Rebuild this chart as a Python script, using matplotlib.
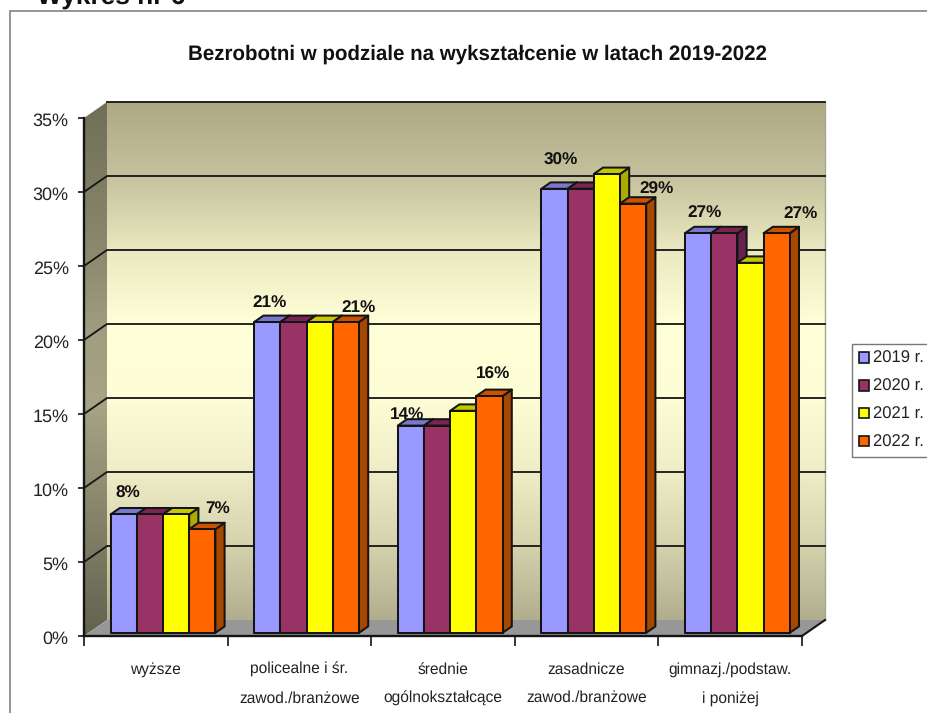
import numpy as np
import matplotlib
matplotlib.use("Agg")
import matplotlib.pyplot as plt
from matplotlib.colors import LinearSegmentedColormap
from matplotlib.patches import Polygon, Patch, Rectangle
from matplotlib.lines import Line2D
from matplotlib.transforms import ScaledTranslation

plt.rcParams['font.family'] = ['Liberation Sans', 'DejaVu Sans']
plt.rcParams['text.hinting'] = 'no_hinting'
plt.rcParams['text.hinting_factor'] = 8

# ---- data ----
categories = ["wyższe", "policealne i śr.\nzawod./branżowe", "średnie\nogólnokształcące",
              "zasadnicze\nzawod./branżowe", "gimnazj./podstaw.\ni poniżej"]
series_names = ["2019 r.", "2020 r.", "2021 r.", "2022 r."]
v2019 = [8, 21, 14, 30, 27]
v2020 = [8, 21, 14, 30, 27]
v2021 = [8, 21, 15, 31, 25]
v2022 = [7, 21, 16, 29, 27]
yticks = [0, 5, 10, 15, 20, 25, 30, 35]
ylabels = ["0%", "5%", "10%", "15%", "20%", "25%", "30%", "35%"]

# ---- style ----
face = ["#9999FF", "#993366", "#FFFF00", "#FF6600"]
top = ["#7878CC", "#7A2450", "#C8C800", "#CC5200"]
side = ["#6666AA", "#66224C", "#ABAB00", "#A84800"]
edge = "#141414"
W, H = 927, 713
fig = plt.figure(figsize=(W/100, H/100), dpi=100, facecolor="white")
L, R, T, B = 84, 802, 118, 636
ax = fig.add_axes([L/W, 1-B/H, (R-L)/W, (B-T)/H])
ax.set_xlim(0, 5); ax.set_ylim(0, 35)
ax.patch.set_visible(False)
px = 5/(R-L); py = 35/(B-T)
DX, DY = 23*px, 16*py

def proj(x, y, d):
    return (x + d*DX, y + d*DY)

# outer frame and cropped heading
fig.add_artist(Rectangle((10/W, -0.1), 1.0, 1-11/H+0.1, transform=fig.transFigure,
                         fill=False, ec="#8c8c8c", lw=1.3))
fig.text(37/W, 1-5/H, "Wykres nr 6", fontsize=18.9, fontweight="bold", color="#111111",
         ha="left", va="baseline")
fig.text(477.5/W, 1-54/H, "Bezrobotni w podziale na wykształcenie w latach 2019-2022",
         fontsize=14.8, fontweight="bold", color="#111111", ha="center", va="center")

# back wall
wall = LinearSegmentedColormap.from_list("wall", [
    (0.00, "#ADA985"), (0.14, "#C4C19C"), (0.286, "#EAE9C0"), (0.43, "#FFFFD8"),
    (0.57, "#FDFDD6"), (0.715, "#EEEDC6"), (0.86, "#D4D2AC"), (1.00, "#B0AE8E")])
grad = np.linspace(0, 1, 256)[:, None]
x0, y0 = proj(0, 0, 1); x1, y1 = proj(5, 35, 1)
ax.imshow(grad, cmap=wall, extent=[x0, x1, y0, y1], aspect="auto", clip_on=False,
          origin="upper", zorder=1)
# side wall
sidem = LinearSegmentedColormap.from_list("side", [
    (0.00, "#6F6F58"), (0.286, "#8B8A6E"), (0.43, "#A09E80"), (0.57, "#A6A484"),
    (0.715, "#8F8D72"), (1.00, "#62624E")])
xs0, _ = proj(0, 0, 0); xs1, _ = proj(0, 0, 1)
im = ax.imshow(grad, cmap=sidem, extent=[xs0, xs1, 0, y1], aspect="auto",
               origin="upper", zorder=1.1)
sp = Polygon([proj(0, 0, 0), proj(0, 35, 0), proj(0, 35, 1), proj(0, 0, 1)],
             transform=ax.transData, fc="none", ec="none")
im.set_clip_on(True)
im.set_clip_box(fig.bbox)
im.set_clip_path(sp)
ax.set_xlim(0, 5); ax.set_ylim(0, 35)
# floor
ax.add_patch(Polygon([proj(0, 0, 0), proj(5, 0, 0), proj(5, 0, 1), proj(0, 0, 1)],
                     fc="#979797", ec="none", clip_on=False, zorder=1.5))
# grid
for t in yticks[1:-1]:
    pts = [proj(0, t, 0), proj(0, t, 1), proj(5, t, 1)]
    ax.add_line(Line2D(*zip(*pts), color=edge, lw=1.3, clip_on=False, zorder=2))
ax.add_line(Line2D(*zip(proj(0, 35, 1), proj(5, 35, 1)), color=edge, lw=1.3, clip_on=False, zorder=2))
ax.add_line(Line2D(*zip(proj(5, 0, 0), proj(5, 0, 1)), color=edge, lw=1.5, clip_on=False, zorder=2))
ax.add_line(Line2D(*zip(proj(5, 0, 1), proj(5, 35, 1)), color="#a6a696", lw=1.0, clip_on=False, zorder=1.6))

# bars
bar_w = 26.2*px
start = 22*px
d0, d1 = 0.2, 0.6
series = [v2019, v2020, v2021, v2022]
z = 3
for c in range(len(categories)):
    for s, vals in enumerate(series):
        l = c + start + s*bar_w
        r = l + bar_w
        v = vals[c]
        kw = dict(ec=edge, lw=1.45, clip_on=False, joinstyle="round")
        ax.add_patch(Polygon([proj(r, 0, d0), proj(r, v, d0), proj(r, v, d1), proj(r, 0, d1)],
                             fc=side[s], zorder=z, **kw))
        ax.add_patch(Polygon([proj(l, v, d0), proj(r, v, d0), proj(r, v, d1), proj(l, v, d1)],
                             fc=top[s], zorder=z, **kw))
        ax.add_patch(Polygon([proj(l, 0, d0), proj(r, 0, d0), proj(r, v, d0), proj(l, v, d0)],
                             fc=face[s], zorder=z, **kw))
        z += 0.01

# data labels, with the hand-placed pixel offsets of the source chart
off_a = [(4, 21), (2, 19), (-4, 11), (6, 28), (6, 20)]
off_b = [(15, 21), (13, 14), (4, 22), (23, 14), (24, 19)]
for c in range(len(categories)):
    for s, vals, off in ((0, v2019, off_a), (3, v2022, off_b)):
        xc = c + start + (s+0.5)*bar_w
        ax.annotate(f"{vals[c]}%", xy=proj(xc, vals[c], d0), xytext=off[c],
                    textcoords="offset pixels", ha="center", va="center",
                    fontsize=12.3, fontweight="bold", color="#111111", zorder=10,
                    annotation_clip=False)

# axes
for k in ("top", "right"):
    ax.spines[k].set_visible(False)
for k in ("left", "bottom"):
    ax.spines[k].set_color(edge); ax.spines[k].set_linewidth(1.7); ax.spines[k].set_zorder(2.5)
ax.set_yticks(yticks, ylabels)
ax.set_xticks(range(6), [""]*6)
ax.set_xticks(np.arange(5)+0.5, categories, minor=True)
ax.tick_params(axis="y", length=4, width=1.2, color=edge, pad=7, labelsize=13, labelcolor="#222222")
ax.tick_params(axis="x", which="major", length=7, width=1.2, color=edge)
ax.tick_params(axis="x", which="minor", length=0, pad=19, labelsize=11.2, labelcolor="#222222")
for t in ax.get_xticklabels(minor=True):
    t.set_linespacing(2.15)
    t.set_va("top")
shift = ScaledTranslation(0, -1.5/100, fig.dpi_scale_trans)
for t in ax.get_yticklabels():
    t.set_transform(t.get_transform() + shift)

# legend
handles = [Patch(fc=f, ec=edge, lw=1.2) for f in face]
leg = fig.legend(handles, series_names, loc="upper left", bbox_to_anchor=(852/W, 1-344/H),
                 fontsize=12.0, frameon=True, fancybox=False, edgecolor="#777777", framealpha=1,
                 handlelength=0.62, handleheight=0.6, handletextpad=0.22, labelspacing=0.72,
                 borderpad=0.42, borderaxespad=0, labelcolor="#222222")
leg.get_frame().set_linewidth(1.0)

fig.savefig("out.png", dpi=100, facecolor="white")
